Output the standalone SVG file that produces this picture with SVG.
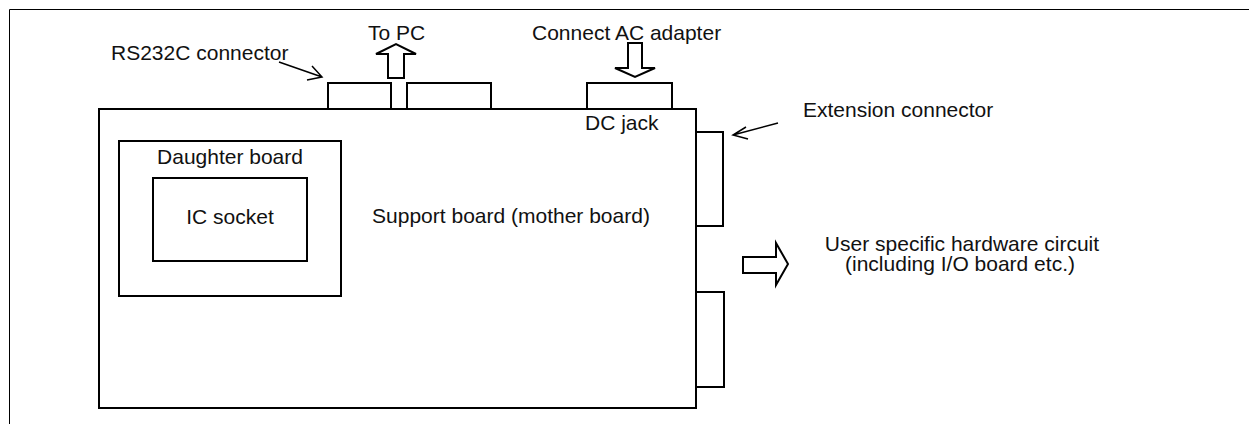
<svg xmlns="http://www.w3.org/2000/svg" width="1249" height="424" viewBox="0 0 1249 424">
<style>
text{font-family:"Liberation Sans",Arial,sans-serif;font-size:21px;fill:#111}
.b{fill:#fff;stroke:#000;stroke-width:2}
.f{fill:none;stroke:#000;stroke-width:1}
.l{fill:none;stroke:#000;stroke-width:1.5}
</style>
<rect width="1249" height="424" fill="#fff"/>
<path class="f" d="M9.5,424 V9.5 H1249"/>
<g id="support-board">
<rect class="b" x="99" y="109" width="597" height="299"/>
<text x="511" y="223" text-anchor="middle">Support board (mother board)</text>
</g>
<g id="daughter-board">
<rect class="b" x="119" y="141" width="222" height="155"/>
<text x="230" y="164" text-anchor="middle">Daughter board</text>
</g>
<g id="ic-socket">
<rect class="b" x="153" y="178" width="154" height="83"/>
<text x="230" y="224" text-anchor="middle">IC socket</text>
</g>
<g id="rs232c-connector">
<rect class="b" x="328" y="83" width="63" height="26"/>
<rect class="b" x="407" y="83" width="84" height="26"/>
<text x="111" y="60">RS232C connector</text>
</g>
<g id="dc-jack">
<rect class="b" x="587" y="83" width="85" height="26"/>
<text x="585" y="130">DC jack</text>
</g>
<g id="extension-connector">
<rect class="b" x="696" y="132" width="27" height="94"/>
<rect class="b" x="696" y="292" width="28" height="95"/>
<text x="803" y="117">Extension connector</text>
</g>
<g id="to-pc">
<text x="368" y="40">To PC</text>
</g>
<g id="ac-adapter">
<text x="532" y="40">Connect AC adapter</text>
</g>
<g id="user-hardware">
<text x="962" y="251" text-anchor="middle">User specific hardware circuit</text>
<text x="960" y="271" text-anchor="middle">(including I/O board etc.)</text>
</g>
<g id="connectors">
<path class="l" d="M279,62 L322,77 M307,80 L322,77 L312,66"/>
<path class="l" d="M778,123 L733,135 M746,127 L733,135 L748,139"/>
<polygon class="b" points="388,78 388,54 376,54 396,44 416,54 404,54 404,78"/>
<polygon class="b" points="628,43 642,43 642,68 655,68 635,77 615,68 628,68"/>
<polygon class="b" points="743,257 776,257 776,243 788,264 776,285 776,273 743,273"/>
</g>
</svg>
